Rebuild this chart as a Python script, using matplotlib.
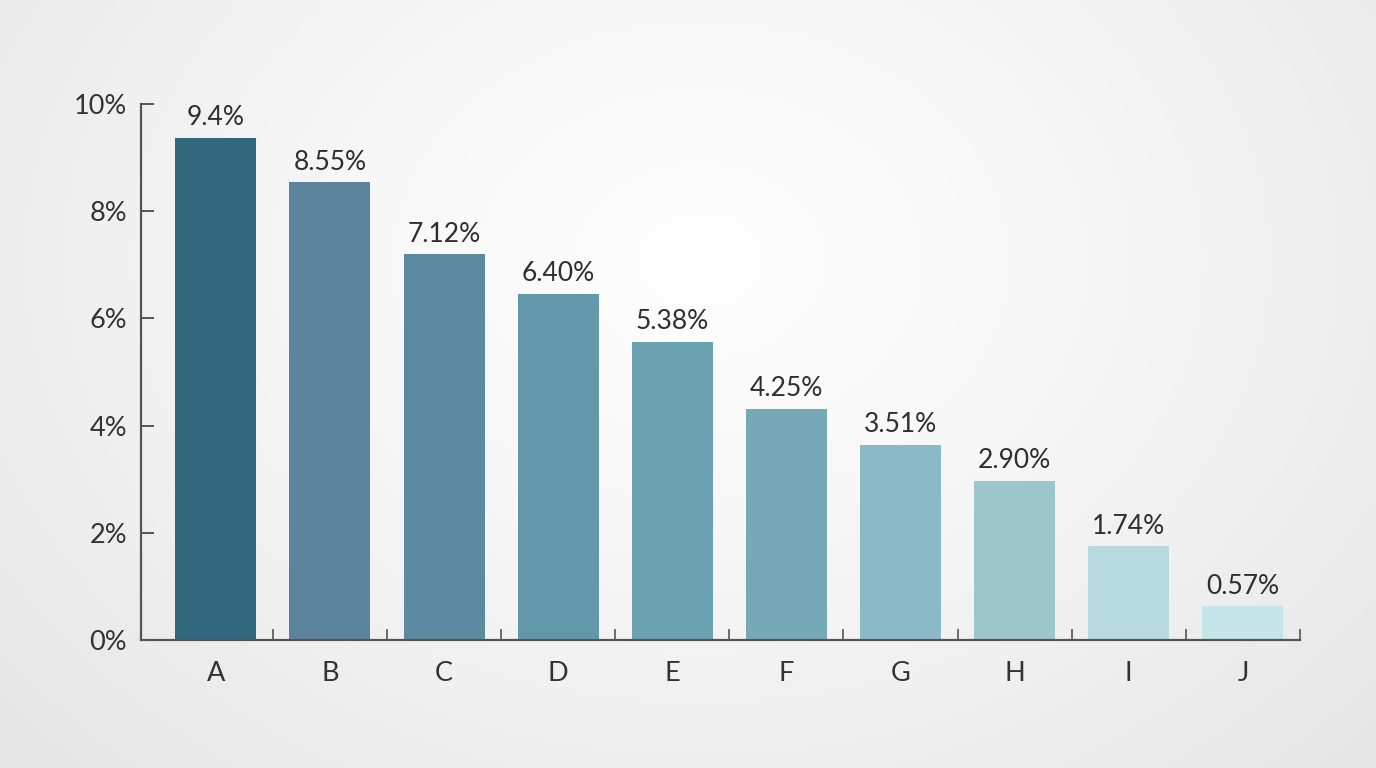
import numpy as np
import matplotlib
matplotlib.use("Agg")
import matplotlib.pyplot as plt

categories = ["A", "B", "C", "D", "E", "F", "G", "H", "I", "J"]
values = [9.37, 8.54, 7.20, 6.46, 5.56, 4.31, 3.64, 2.97, 1.75, 0.63]
value_labels = ["9.4%", "8.55%", "7.12%", "6.40%", "5.38%", "4.25%", "3.51%", "2.90%", "1.74%", "0.57%"]
colors = ["#31687e", "#5c849c", "#5d8aa0", "#6298aa", "#6aa2b2",
          "#76a9b8", "#8ab9c8", "#9cc5cc", "#b7dae0", "#c3e4e8"]
yticks = [0, 2, 4, 6, 8, 10]
ytick_labels = ["0%", "2%", "4%", "6%", "8%", "10%"]

plt.rcParams['font.family'] = ['Lato', 'DejaVu Sans']
W, H = 1376, 768
fig = plt.figure(figsize=(W / 100, H / 100), dpi=100)

# radial gradient background
bg = fig.add_axes([0, 0, 1, 1])
yy, xx = np.mgrid[0:H, 0:W]
r = np.sqrt(((xx - 700) / 900.0) ** 2 + ((yy - 260) / 700.0) ** 2)
r = np.clip(r, 0, 1)
light = 0.995 - 0.09 * r ** 1.3
img = np.dstack([light, light, light])
bg.imshow(img, aspect='auto', extent=[0, 1, 0, 1])
bg.axis('off')

ax = fig.add_axes([141 / W, 1 - 640 / H, (1300 - 141) / W, (640 - 104) / H])
ax.patch.set_alpha(0)
x = np.arange(len(categories))
ax.bar(x, values, width=0.71, color=colors, edgecolor='none', zorder=2)

for xi, v, lab in zip(x, values, value_labels):
    ax.annotate(lab, (xi, v), xytext=(0, 9), textcoords='offset points',
                ha='center', va='baseline', fontsize=19, color='#2e2e2e')

ax.set_xlim(-0.655, 9.5)
ax.set_ylim(0, 10)
ax.set_yticks(yticks)
ax.set_yticklabels(ytick_labels)
ax.set_xticks(x)
ax.set_xticklabels(categories)
ax.set_xticks(np.arange(0.5, 10, 1.0), minor=True)

for s in ['top', 'right']:
    ax.spines[s].set_visible(False)
for s in ['left', 'bottom']:
    ax.spines[s].set_color('#555555')
    ax.spines[s].set_linewidth(1.6)

ax.tick_params(axis='y', direction='in', length=9, width=1.4, color='#555555',
               labelsize=19.5, labelcolor='#333333', pad=10)
ax.tick_params(axis='x', which='major', length=0, labelsize=19.5,
               labelcolor='#333333', pad=15)
ax.tick_params(axis='x', which='minor', direction='in', length=8, width=1.2,
               color='#555555')

fig.savefig("out.png", dpi=100)
